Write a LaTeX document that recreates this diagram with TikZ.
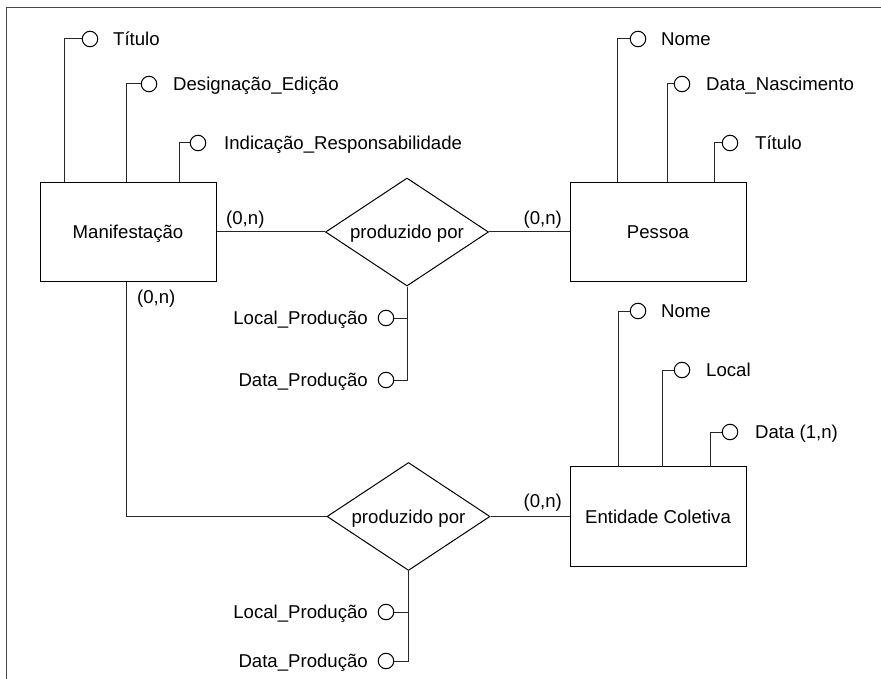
\documentclass[tikz,border=0pt]{standalone}
\usepackage{fontspec}
\setmainfont{Liberation Sans}
\usetikzlibrary{shapes.geometric}
\begin{document}
\begin{tikzpicture}[x=1pt,y=-1pt,
  every node/.style={font=\fontsize{18.6}{22}\selectfont, text=black},
  entity/.style={draw, line width=1pt, rectangle, minimum width=176, minimum height=99.5, inner sep=0, text height=13.4pt, text depth=0pt},
  relation/.style={draw, line width=1pt, diamond, aspect=1.51, minimum width=163, minimum height=108, inner sep=0, text height=13.4pt, text depth=0pt},
  attrdot/.style={draw, line width=1pt, circle, minimum size=15.5, inner sep=0},
  label/.style={inner sep=0, anchor=base west},
  rlabel/.style={inner sep=0, anchor=base east},
  link/.style={line width=1pt, draw=black!85},
  frame/.style={line width=1.8pt, draw=black!72}]
\useasboundingbox (0,0) rectangle (881,679);

% outer frame (only top and left edges inside the page)
\draw[frame] (6.5,679) -- (6.5,7.5) -- (881,7.5);

% entities
\node[entity] (manif) at (128,232) {Manifestação};
\node[entity] (pessoa) at (658,232) {Pessoa};
\node[entity] (entcol) at (658,516.5) {Entidade Coletiva};

% relationships
\node[relation] (rel1) at (407,232) {produzido por};
\node[relation] (rel2) at (408.5,516.5) {produzido por};

% relationship links
\draw[link] (manif.east) -- (rel1.west);
\draw[link] (rel1.east) -- (pessoa.west);
\coordinate (mdown) at (126,281.75);
\draw[link] (mdown) |- (rel2.west);
\draw[link] (rel2.east) -- (entcol.west);

% cardinalities
\node[label] (c1) at (226,225) {(0,n)};
\node[rlabel] (c2) at (562,225) {(0,n)};
\node[label] (c3) at (137,303) {(0,n)};
\node[rlabel] (c4) at (562,507) {(0,n)};

% attributes of Manifestação
\node[attrdot] (ma1) at (90,39) {};
\node[attrdot] (ma2) at (149,84) {};
\node[attrdot] (ma3) at (198,143) {};
\coordinate (mt1) at (64,182.25);
\coordinate (mt2) at (126,182.25);
\coordinate (mt3) at (179,182.25);
\draw[link] (mt1) |- (ma1.west);
\draw[link] (mt2) |- (ma2.west);
\draw[link] (mt3) |- (ma3.west);
\node[label] (mat1) at (113,45.5) {Título};
\node[label] (mat2) at (173,90.5) {Designação\_Edição};
\node[label] (mat3) at (224,149.5) {Indicação\_Responsabilidade};

% attributes of Pessoa
\node[attrdot] (pa1) at (638,39) {};
\node[attrdot] (pa2) at (682,84) {};
\node[attrdot] (pa3) at (730,143) {};
\coordinate (pt1) at (617,182.25);
\coordinate (pt2) at (667,182.25);
\coordinate (pt3) at (714,182.25);
\draw[link] (pt1) |- (pa1.west);
\draw[link] (pt2) |- (pa2.west);
\draw[link] (pt3) |- (pa3.west);
\node[label] (pat1) at (661,45.5) {Nome};
\node[label] (pat2) at (706,90.5) {Data\_Nascimento};
\node[label] (pat3) at (755,149.5) {Título};

% attributes of Entidade Coletiva
\node[attrdot] (ea1) at (638,311) {};
\node[attrdot] (ea2) at (682,370) {};
\node[attrdot] (ea3) at (730,432) {};
\coordinate (et1) at (618,466.75);
\coordinate (et2) at (662,466.75);
\coordinate (et3) at (710,466.75);
\draw[link] (et1) |- (ea1.west);
\draw[link] (et2) |- (ea2.west);
\draw[link] (et3) |- (ea3.west);
\node[label] (eat1) at (661,317.5) {Nome};
\node[label] (eat2) at (706,376.5) {Local};
\node[label] (eat3) at (755,438.5) {Data (1,n)};

% attributes of the first relationship
\node[attrdot] (ra1) at (386,318) {};
\node[attrdot] (ra2) at (386,380) {};
\draw[link] (rel1.south) |- (ra1.east);
\draw[link] (rel1.south) |- (ra2.east);
\node[rlabel] (rat1) at (368,324.5) {Local\_Produção};
\node[rlabel] (rat2) at (368,386.5) {Data\_Produção};

% attributes of the second relationship
\node[attrdot] (rb1) at (386,612) {};
\node[attrdot] (rb2) at (386,661) {};
\draw[link] (rel2.south) |- (rb1.east);
\draw[link] (rel2.south) |- (rb2.east);
\node[rlabel] (rbt1) at (368,618.5) {Local\_Produção};
\node[rlabel] (rbt2) at (368,667.5) {Data\_Produção};
\end{tikzpicture}
\end{document}
